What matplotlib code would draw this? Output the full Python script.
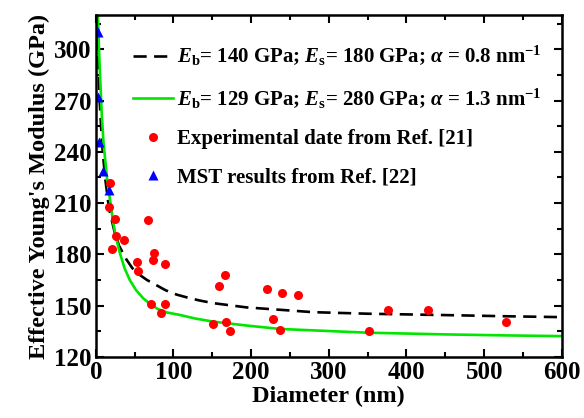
import numpy as np
import matplotlib
matplotlib.use('Agg')
from matplotlib import pyplot as plt
from matplotlib.ticker import MultipleLocator

plt.rcParams['font.family'] = 'Liberation Serif'
plt.rcParams['font.weight'] = 'bold'
plt.rcParams['mathtext.fontset'] = 'custom'
plt.rcParams['mathtext.rm'] = 'Liberation Serif:bold'
plt.rcParams['mathtext.it'] = 'Liberation Serif:italic:bold'
plt.rcParams['mathtext.bf'] = 'Liberation Serif:bold'

# model curve 1: Eb=140, Es=180, alpha=0.8
d_dash = [2.0, 3, 5, 8, 12, 17, 24.5, 30, 39.5, 47, 56.6, 66, 78, 90, 104, 120, 134, 151, 194, 237, 280, 350, 450, 530, 600]
e_dash = [320, 300, 270, 245, 225, 207, 192.5, 185, 177, 172, 168, 165, 162, 159, 156.5, 154.5, 153, 151.5, 149, 147.6, 146.2, 145.3, 144.5, 143.8, 143.3]

# model curve 2: Eb=129, Es=280, alpha=1.3
d_green = [2.8, 4, 5.2, 7.7, 10, 14.6, 19, 22.3, 26, 30.9, 37, 43.8, 52, 60.9, 70, 80, 92, 108, 128, 151, 194, 237, 288, 350, 450, 530, 600]
e_green = [320, 302, 288, 262, 245, 224, 210, 199, 190, 181, 172, 165, 159, 154.4, 151, 148, 146, 144.6, 142.5, 140.7, 138.4, 136.4, 135.4, 134.2, 133.2, 132.6, 132.2]

# experimental data, Ref. [21]
d_exp = [18.9, 17.2, 24.5, 67, 25.7, 36.5, 20.6, 75.1, 73.8, 88.8, 53.2, 54.5, 166, 158.4, 220.2,
         240.3, 260.5, 70.8, 88.8, 83.7, 151, 167.8, 173.4, 228.8, 236.9, 376.4, 427.9, 352.4, 528.3]
e_exp = [221.6, 207.5, 200.9, 200.3, 190.5, 188.4, 183.1, 181, 176.9, 174.3, 175.7, 170.4, 168.1, 161.6, 159.7,
         157.5, 156.4, 150.9, 151.1, 145.6, 139.3, 140.5, 135.2, 142.3, 135.8, 147.7, 147.7, 135.4, 140.3]

# MST results, Ref. [22]
d_mst = [3, 3, 4.3, 9.4, 17]
e_mst = [310, 272, 245.5, 228.6, 217.5]

fig = plt.figure(figsize=(5.84, 4.18), dpi=100)
ax = fig.add_axes([0.164, 0.146, 0.798, 0.818])

ax.plot(d_dash, e_dash, color='black', ls=(0, (5, 2.8)), lw=1.9,
        label=r'$E_{\mathrm{b}}$= 140 GPa; $E_{\mathrm{s}}$= 180 GPa; $\alpha$ = 0.8 nm$^{\mathrm{-1}}$')
ax.plot(d_green, e_green, color='#00e600', lw=1.9,
        label=r'$E_{\mathrm{b}}$= 129 GPa; $E_{\mathrm{s}}$= 280 GPa; $\alpha$ = 1.3 nm$^{\mathrm{-1}}$')
ax.plot(d_exp, e_exp, 'o', color='#ff0000', ms=6.5, mec='none', label='Experimental date from Ref. [21]')
ax.plot(d_mst, e_mst, '^', color='#0000ff', ms=6.5, mec='none', label='MST results from Ref. [22]')

ax.set_xlim(0, 600)
ax.set_ylim(120, 320)
ax.xaxis.set_major_locator(MultipleLocator(100))
ax.xaxis.set_minor_locator(MultipleLocator(50))
ax.yaxis.set_minor_locator(MultipleLocator(15))
ax.set_yticks([120, 150, 180, 210, 240, 270, 300])
ax.tick_params(which='both', direction='in', top=True, right=True, width=1.5, labelsize=18)
ax.tick_params(which='major', length=6, pad=3)
ax.tick_params(which='minor', length=3.5)
for s in ax.spines.values():
    s.set_linewidth(1.8)

ax.set_xlabel('Diameter (nm)', fontsize=17.5, fontweight='bold', labelpad=1)
ax.set_ylabel("Effective Young's Modulus (GPa)", fontsize=17.5, fontweight='bold', labelpad=3)

ax.legend(loc='upper right', bbox_to_anchor=(0.975, 0.94), frameon=False, fontsize=15,
          handlelength=1.9, handletextpad=0.2, labelspacing=0.88, borderaxespad=0.0)

plt.savefig('out.png', dpi=100)
